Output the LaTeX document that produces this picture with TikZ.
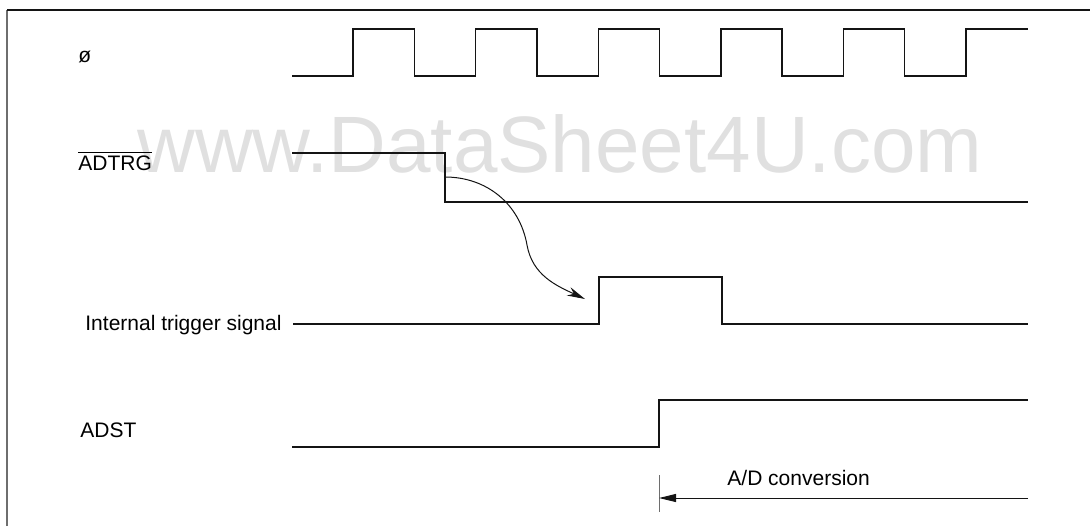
\documentclass[tikz,border=0pt]{standalone}
\usepackage{fontspec}
\setmainfont{Liberation Sans}
\usetikzlibrary{arrows.meta}
\definecolor{wavecol}{RGB}{20, 20, 20}
\definecolor{watermarkgray}{RGB}{224, 224, 224}
\definecolor{framegray}{RGB}{110, 110, 110}
\tikzset{
    wave/.style={draw=wavecol, line width=0.7pt},
    signame/.style={font=\fontsize{10.5}{12}\selectfont, inner sep=0pt, anchor=base west},
    wmark/.style={text=watermarkgray, font=\fontsize{40}{48}\selectfont, inner sep=0pt, anchor=base west}
}

\begin{document}
\begin{tikzpicture}[x=0.5pt, y=-0.5pt]
                \useasboundingbox (0,0) rectangle (1090,526);
                \node[wmark] (wm) at (137,172) {www.DataSheet4U.com};
                \draw[framegray, line width=1pt] (7,526) -- (7,10);
                \draw[wavecol, line width=0.7pt] (7,10) -- (1090,10);
                \node[signame] (phi) at (78,62) {ø};
                \node[signame] (adtrg) at (78,170) {$\overline{\hbox{ADTRG}}$};
                \node[signame] (trig) at (85,330) {Internal trigger signal};
                \node[signame] (adst) at (80,437) {ADST};
                \node[signame] (conv) at (727,485) {A/D conversion};
                \draw[wave] (292,76) foreach \k in {0,...,4} {
                    -- ({353+122.6*\k},76) |- ({414.3+122.6*\k},29) -- ({414.3+122.6*\k},76)
                } -- (966,76) |- (1028,29);
                \draw[wave] (292,153) -| (445,202) -- (1028,202);
                \draw[wave] (293,324) -| (599,277) -| (722,324) -- (1028,324);
                \draw[wave] (292,447) -| (659,400) -- (1028,400);
                \coordinate (fall) at (445,177);
                \coordinate (bend) at (527,245);
                \coordinate (tip) at (585,299);
                \draw[wave, line width=0.5pt, -{Stealth[length=9pt, width=4.5pt]}] (fall) to[out=0, in=100] (bend) to[out=-80, in=155] (tip);
                \coordinate (convstart) at (659,498);
                \coordinate (convend) at (1028,498);
                \draw[framegray, line width=0.5pt] (659,475) -- (659,512);
                \draw[wave, line width=0.5pt, -{Triangle[length=8.5pt, width=4pt]}] (convend) -- (convstart);
            \end{tikzpicture}
\end{document}
